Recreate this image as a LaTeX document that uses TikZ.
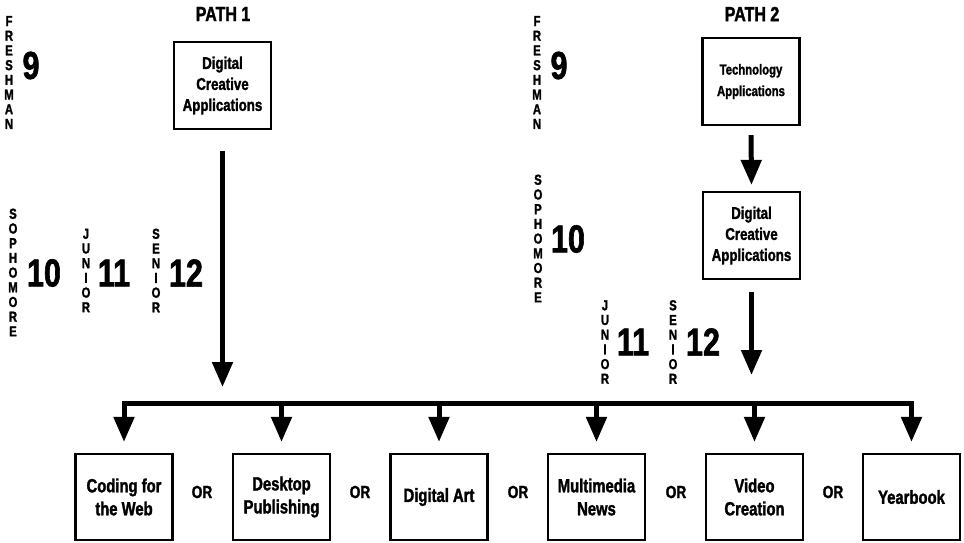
\documentclass[tikz,border=0pt]{standalone}
\usepackage{fontspec}
\setmainfont[FakeStretch=0.78, BoldFeatures={FakeBold=1.6}]{Liberation Sans}
\usetikzlibrary{arrows.meta}
\tikzset{
  x=1pt, y=-1pt,
  box/.style={draw, line width=2.2pt, minimum width=97pt, minimum height=87pt, align=center, inner sep=2pt,
    font=\fontsize{17}{21}\selectfont\bfseries},
  sbox/.style={box, font=\fontsize{14.5}{21.5}\selectfont\bfseries},
  bbox/.style={box, minimum height=86pt, font=\fontsize{19}{23}\selectfont\bfseries},
  vlet/.style={align=center, inner sep=0pt, font=\fontsize{14.5}{14.7}\selectfont\bfseries},
  num/.style={inner sep=0pt, font=\fontsize{39}{39}\selectfont\bfseries},
  title/.style={inner sep=0pt, font=\fontsize{20.5}{22}\selectfont\bfseries},
  ortext/.style={inner sep=0pt, font=\fontsize{17.5}{20}\selectfont\bfseries},
  arr/.style={line width=5pt, -{Triangle[width=20pt,length=25pt]}},
  bus/.style={line width=5pt, line cap=rect},
}
\begin{document}
\begin{tikzpicture}
\useasboundingbox (0,0) rectangle (964,542);

% ---------- PATH 1 ----------
\node[title] (t1) at (223,14) {PATH 1};
\node[box] (p1) at (222.5,85.5) {Digital\\Creative\\Applications};
\node[vlet] (fr1) at (9,72.5) {F\\R\\E\\S\\H\\M\\A\\N};
\node[num] (n9a) at (31,65.5) {9};
\node[vlet] (so1) at (13,272.5) {S\\O\\P\\H\\O\\M\\O\\R\\E};
\node[num] (n10a) at (44,273) {10};
\node[vlet] (ju1) at (86,270.5) {J\\U\\N\\I\\O\\R};
\node[num] (n11a) at (114,273) {11};
\node[vlet] (se1) at (156,270.5) {S\\E\\N\\I\\O\\R};
\node[num] (n12a) at (186,273) {12};

% ---------- PATH 2 ----------
\node[title] (t2) at (752,14) {PATH 2};
\node[sbox] (p2a) at (751,81.5) {Technology\\Applications};
\node[box] (p2b) at (751.5,235.5) {Digital\\Creative\\Applications};
\node[vlet] (fr2) at (537,72.5) {F\\R\\E\\S\\H\\M\\A\\N};
\node[num] (n9b) at (559,65.5) {9};
\node[vlet] (so2) at (538,238.5) {S\\O\\P\\H\\O\\M\\O\\R\\E};
\node[num] (n10b) at (568,239) {10};
\node[vlet] (ju2) at (605,342) {J\\U\\N\\I\\O\\R};
\node[num] (n11b) at (633,342) {11};
\node[vlet] (se2) at (673,342) {S\\E\\N\\I\\O\\R};
\node[num] (n12b) at (703,342) {12};

% ---------- bottom boxes ----------
\node[bbox] (b1) at (124,497) {Coding for\\the Web};
\node[bbox] (b2) at (281.5,497) {Desktop\\Publishing};
\node[bbox] (b3) at (439,497) {Digital Art};
\node[bbox] (b4) at (596.5,497) {Multimedia\\News};
\node[bbox] (b5) at (754.5,497) {Video\\Creation};
\node[bbox] (b6) at (911.5,497) {Yearbook};
\node[ortext] (or1) at (202,492) {OR};
\node[ortext] (or2) at (360,492) {OR};
\node[ortext] (or3) at (518,492) {OR};
\node[ortext] (or4) at (676,492) {OR};
\node[ortext] (or5) at (833,492) {OR};

% ---------- connectors ----------
\coordinate (busL) at (124,403);
\coordinate (busR) at (911.5,403);
\coordinate (p1end) at (222.5,403);
\coordinate (p2end) at (751.5,403);
\draw[arr, shorten <=21pt, shorten >=16pt] (p1.south) -- (p1end);
\draw[arr, shorten <=9pt, shorten >=6pt] (p2a.south) -- (p2b.north);
\draw[arr, shorten <=12pt, shorten >=28pt] (p2b.south) -- (p2end);
\draw[bus] (busL) -- (busR);
\foreach \i in {1,...,6}{
  \draw[arr, line cap=rect, shorten >=11pt] (b\i.north |- busL) -- (b\i.north);
}
\end{tikzpicture}
\end{document}
